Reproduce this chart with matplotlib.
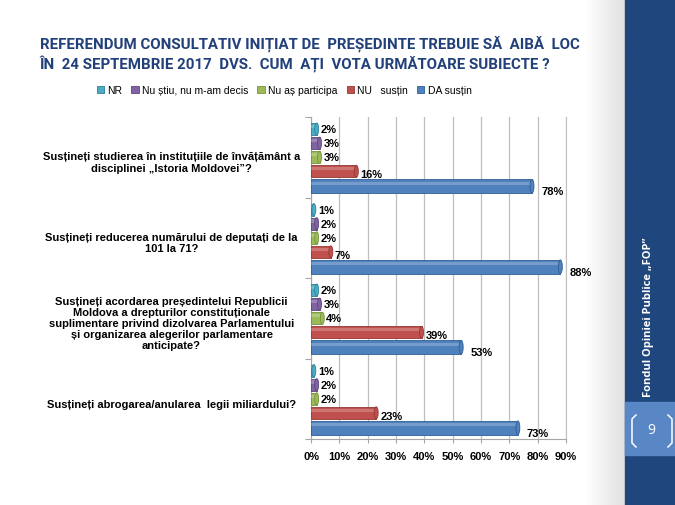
import numpy as np
import matplotlib
matplotlib.use('Agg')
import matplotlib.pyplot as plt
from matplotlib.patches import Rectangle, Ellipse
from matplotlib.lines import Line2D

plt.rcParams['font.family'] = ['Liberation Sans', 'DejaVu Sans']

# data
questions = [
    'Susțineți studierea în instituțiile de învățământ a\ndisciplinei „Istoria Moldovei”?',
    'Susțineți reducerea numărului de deputați de la\n101 la 71?',
    'Susțineți acordarea președintelui Republicii\nMoldova a drepturilor constituționale\nsuplimentare privind dizolvarea Parlamentului\nși organizarea alegerilor parlamentare\nanticipate?',
    'Susțineți abrogarea/anularea  legii miliardului?',
]
series = ['NR', 'Nu știu, nu m-am decis', 'Nu aș participa', 'NU   susțin', 'DA susțin']
nr = [2, 1, 2, 1]
nu_stiu = [3, 2, 3, 2]
nu_as = [3, 2, 4, 2]
nu_sustin = [16, 7, 39, 23]
da_sustin = [78, 88, 53, 73]
colors = ['#4BACC6', '#8064A2', '#9BBB59', '#C0504D', '#4F81BD']
edges = ['#2E8199', '#5B4578', '#76923C', '#943634', '#2F5D96']
xticks = [0, 10, 20, 30, 40, 50, 60, 70, 80, 90]

values = [nr, nu_stiu, nu_as, nu_sustin, da_sustin]
offs = [0.15, 0.325, 0.50, 0.675, 0.86]
heights = [0.15, 0.15, 0.15, 0.15, 0.17]

W, H = 675, 506
fig = plt.figure(figsize=(6.75, 5.06), dpi=100)
fig.patch.set_facecolor('white')


def fx(px):
    return px / W


def fy(py):
    return 1 - py / H


# light shadow strip and sidebar
grad = fig.add_axes([fx(585), 0, fx(40), 1])
grad.imshow(np.linspace(1, 0.88, 50)[None, :], cmap='gray', vmin=0, vmax=1, aspect='auto')
grad.axis('off')
fig.patches.append(Rectangle((fx(625), 0), 1 - fx(625), 1, transform=fig.transFigure,
                             color='#1F477D', zorder=1))
fig.patches.append(Rectangle((fx(625), fy(456)), 1 - fx(625), fy(403) - fy(456),
                             transform=fig.transFigure, color='#5987C6', zorder=2))
for xs in [(636, 632, 632, 636), (668, 672, 672, 668)]:
    fig.lines.append(Line2D([fx(v) for v in xs], [fy(416), fy(420), fy(444), fy(448)],
                            transform=fig.transFigure, color='white', lw=1.1, zorder=3))
fig.text(fx(651), fy(431), '9', color='white', fontsize=10, ha='center', va='center',
         family='Open Sans', zorder=4)
fig.text(fx(649), fy(317), 'Fondul Opiniei Publice „FOP”', color='white', fontsize=8,
         fontweight='bold', rotation=90, ha='center', va='center', family='Open Sans', zorder=4)

# title
for ty, line in [(45, 'REFERENDUM CONSULTATIV INIȚIAT DE  PREȘEDINTE TREBUIE SĂ  AIBĂ  LOC'),
                 (64, 'ÎN  24 SEPTEMBRIE 2017  DVS.  CUM  AȚI  VOTA URMĂTOARE SUBIECTE ?')]:
    fig.text(fx(40), fy(ty), line, color='#22407A', fontsize=10.8, fontweight='bold',
             family=['Roboto', 'DejaVu Sans'], va='center')

ax = fig.add_axes([fx(311), fy(440), fx(566) - fx(311), fy(118) - fy(440)])
ax.set_xlim(0, 90)
ax.set_ylim(4, 0)

n = len(questions)
for j, vals in enumerate(values):
    ys = [i + offs[j] for i in range(n)]
    h = heights[j]
    ax.barh(ys, vals, height=h, color=colors[j], edgecolor=edges[j], linewidth=0.6,
            label=series[j], zorder=3)
    # highlight stripe for cylinder look
    ax.barh([y - h * 0.22 for y in ys], vals, height=h * 0.25, color='white', alpha=0.22,
            linewidth=0, zorder=4)
    for y, v in zip(ys, vals):
        ax.add_patch(Ellipse((v, y), 1.4, h, facecolor=colors[j], edgecolor=edges[j],
                             linewidth=0.6, zorder=5))
        if j == 4:
            dx, dy = 9, -5
        elif j == 3:
            dx, dy = 4, -3
        else:
            dx, dy = 4, 0
        ax.annotate(f'{v}%', (v, y), xytext=(dx, dy), textcoords='offset pixels',
                    fontsize=8, fontweight='bold', ha='left', va='center', zorder=6)

for i, q in enumerate(questions):
    ax.text(-0.547, i + 0.56, q, transform=ax.get_yaxis_transform(), ha='center',
            va='center', fontsize=8, fontweight='bold', linespacing=1.15)

ax.set_xticks(xticks)
ax.set_xticklabels([f'{t}%' for t in xticks], fontsize=8, fontweight='bold')
ax.xaxis.grid(True, color='#BFBFBF', linewidth=0.9, zorder=0)
ax.set_yticks(range(n + 1))
ax.set_yticklabels([])
ax.tick_params(axis='y', length=4, color='#A6A6A6', direction='out')
ax.tick_params(axis='x', length=3, color='#A6A6A6', pad=6)
ax.spines['top'].set_visible(False)
ax.spines['right'].set_color('#BFBFBF')
ax.spines['left'].set_color('#A6A6A6')
ax.spines['bottom'].set_color('#A6A6A6')
ax.set_facecolor('none')

handles, labels = ax.get_legend_handles_labels()
fig.legend(handles[:5], labels[:5], loc='center', bbox_to_anchor=(fx(284), fy(91)), ncol=5,
           frameon=False, fontsize=7.5, handlelength=0.7, handleheight=0.7, handletextpad=0.3,
           columnspacing=0.9, borderaxespad=0)

fig.savefig('out.png', dpi=100)
